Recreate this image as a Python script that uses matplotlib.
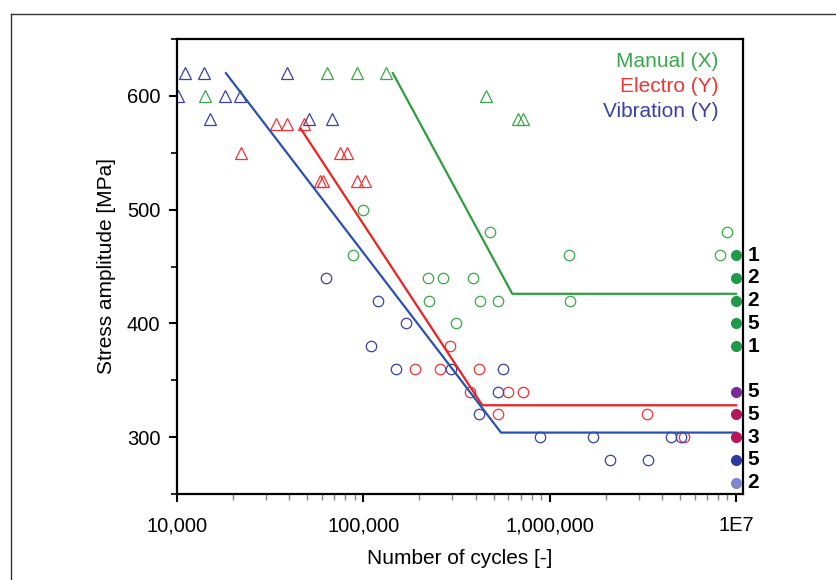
import matplotlib
matplotlib.use("Agg")
import matplotlib.pyplot as plt
from matplotlib.lines import Line2D
from matplotlib.ticker import FixedLocator, FixedFormatter, MultipleLocator, LogLocator, NullFormatter

plt.rcParams['font.family'] = ['Liberation Sans', 'DejaVu Sans']

# Manual (X) - green
man_tri_n = [14100, 63500, 92000, 133000, 456000, 673000, 722000]
man_tri_s = [600, 620, 620, 620, 600, 580, 580]
man_cir_n = [100000, 481000, 88000, 222000, 267000, 386000, 224000, 425000, 526000,
             1290000, 1265000, 315000, 8920000, 8180000]
man_cir_s = [500, 480, 460, 440, 440, 440, 420, 420, 420, 420, 460, 400, 480, 460]
man_fit_n = [144000, 630000, 1e7]
man_fit_s = [620, 426, 426]

# Electro (Y) - red
ele_tri_n = [22000, 33900, 39000, 47900, 58400, 60400, 74600, 82000, 92500, 101600]
ele_tri_s = [550, 575, 575, 575, 525, 525, 550, 550, 525, 525]
ele_cir_n = [290000, 190000, 259000, 416000, 374000, 600000, 722000, 526000, 3320000, 5260000]
ele_cir_s = [380, 360, 360, 360, 340, 340, 340, 320, 320, 300]
ele_fit_n = [46200, 435000, 1e7]
ele_fit_s = [571, 328, 328]

# Vibration (Y) - blue
vib_tri_n = [10100, 11000, 13950, 18100, 21900, 15000, 38800, 50900, 67600]
vib_tri_s = [600, 620, 620, 600, 600, 580, 620, 580, 580]
vib_cir_n = [62800, 119700, 168700, 110000, 150000, 297000, 564000, 531000, 415000,
             888000, 1711000, 4460000, 5050000, 2100000, 3350000]
vib_cir_s = [440, 420, 400, 380, 360, 360, 360, 340, 320, 300, 300, 300, 300, 280, 280]
vib_fit_n = [18300, 548000, 1e7]
vib_fit_s = [620, 304, 304]

# run-outs at 1E7
run_s = [460, 440, 420, 400, 380, 340, 320, 300, 280, 260]
run_cnt = ["1", "2", "2", "5", "1", "5", "5", "3", "5", "2"]
run_col = ["#1f9a4a"] * 5 + ["#7a2a9c", "#b8145c", "#b8145c", "#2c3aa0", "#8088cc"]

x_ticks = [1e4, 1e5, 1e6, 1e7]
x_labels = ["10,000", "100,000", "1,000,000", "1E7"]
y_ticks = [300, 400, 500, 600]

c_green, c_red, c_blue = "#3aa84a", "#ee3535", "#3a40a8"

fig = plt.figure(figsize=(8.36, 5.8), dpi=100)
ax = fig.add_axes([177 / 836, 1 - 494 / 580, (743 - 177) / 836, (494 - 39) / 580])

# outer frame
fig.add_artist(Line2D([10.5 / 836, 1.0], [1 - 14 / 580] * 2, color="#333333", lw=1.0))
fig.add_artist(Line2D([10.5 / 836] * 2, [0, 1 - 14 / 580], color="#333333", lw=1.0))

mk = dict(linestyle="none", markerfacecolor="none", markeredgewidth=0.9)
ax.plot(man_tri_n, man_tri_s, marker="^", ms=8.5, markeredgecolor=c_green, **mk)
ax.plot(man_cir_n, man_cir_s, marker="o", ms=7.5, markeredgecolor=c_green, **mk)
ax.plot(ele_tri_n, ele_tri_s, marker="^", ms=8.5, markeredgecolor=c_red, **mk)
ax.plot(ele_cir_n, ele_cir_s, marker="o", ms=7.5, markeredgecolor=c_red, **mk)
ax.plot(vib_tri_n, vib_tri_s, marker="^", ms=8.5, markeredgecolor=c_blue, **mk)
ax.plot(vib_cir_n, vib_cir_s, marker="o", ms=7.5, markeredgecolor=c_blue, **mk)

ax.plot(man_fit_n, man_fit_s, color="#2e9e3e", lw=1.6)
ax.plot(ele_fit_n, ele_fit_s, color="#f02020", lw=1.6)
ax.plot(vib_fit_n, vib_fit_s, color="#2a50b0", lw=1.6)

for s, c, col in zip(run_s, run_cnt, run_col):
    ax.plot(1e7, s, marker="o", ms=7, color=col, linestyle="none", clip_on=False, zorder=5)
    ax.annotate(c, (1e7, s), xytext=(8, 0), textcoords="offset points", ha="left",
                va="center", fontsize=15, fontweight="bold", annotation_clip=False)

ax.set_xscale("log")
ax.set_xlim(1e4, 1.09e7)
ax.set_ylim(250, 650)

ax.xaxis.set_major_locator(FixedLocator(x_ticks))
ax.xaxis.set_major_formatter(FixedFormatter(x_labels))
ax.xaxis.set_minor_locator(LogLocator(base=10, subs=range(2, 10)))
ax.xaxis.set_minor_formatter(NullFormatter())
ax.yaxis.set_major_locator(FixedLocator(y_ticks))
ax.yaxis.set_minor_locator(MultipleLocator(50))

ax.tick_params(which="major", direction="out", length=6, width=1.5, labelsize=14.5, pad=6)
ax.tick_params(axis="x", which="major", pad=10)
ax.tick_params(axis="x", which="minor", direction="out", length=4, width=1, color="#888888")
ax.tick_params(axis="y", which="minor", direction="out", length=4, width=1.2)
for sp in ax.spines.values():
    sp.set_linewidth(1.6)

ax.set_xlabel("Number of cycles [-]", fontsize=15, labelpad=10)
ax.set_ylabel("Stress amplitude [MPa]", fontsize=15, labelpad=8)

leg_txt = ["Manual (X)", "Electro (Y)", "Vibration (Y)"]
leg_col = [c_green, c_red, c_blue]
for i, (t, col) in enumerate(zip(leg_txt, leg_col)):
    ax.text(0.957, 0.95 - i * 0.055, t, transform=ax.transAxes, ha="right", va="center",
            fontsize=15, color=col)

fig.savefig("out.png", dpi=100)
